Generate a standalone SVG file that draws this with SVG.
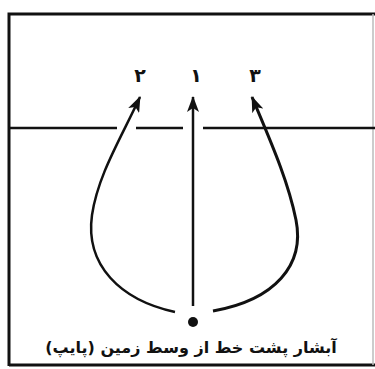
<svg xmlns="http://www.w3.org/2000/svg" width="375" height="369" viewBox="0 0 375 369">
<style>
.frame{fill:none;stroke:#111;stroke-width:3}
.line{fill:none;stroke:#111;stroke-width:2.5}
.flow{fill:none;stroke:#111;stroke-width:2.5}
.lbl{font-family:"DejaVu Sans",sans-serif;font-weight:bold;font-size:19px;fill:#111;text-anchor:middle}
.cap{font-family:"DejaVu Sans",sans-serif;font-weight:bold;font-size:16px;fill:#111;text-anchor:middle}
</style>
<defs>
<marker id="ah" viewBox="0 0 16 12" refX="15" refY="6" markerWidth="16" markerHeight="12" markerUnits="userSpaceOnUse" orient="auto">
<path d="M0,0 L16,6 L0,12 L4,6 Z" fill="#111"/>
</marker>
</defs>
<g id="court">
<path class="frame" d="M9,366 L9,14 L375,14"/>
<line x1="9" y1="365" x2="375" y2="365" stroke="#111" stroke-width="3"/>
<line x1="373" y1="14" x2="373" y2="365" stroke="#bbb" stroke-width="1.5"/>
<path class="line" d="M9,128 L117,128 M136,128 L183,128 M203,128 L375,128"/>
</g>
<g id="connectors">
<line class="flow" x1="193" y1="306" x2="193" y2="97" marker-end="url(#ah)"/>
<path class="flow" d="M175,312 C120,300 85,265 92,215 C98,175 120,140 140,97" marker-end="url(#ah)"/>
<path class="flow" d="M213,311 C275,300 305,265 296,220 C288,180 270,140 252,97" marker-end="url(#ah)" style="stroke-width:3"/>
</g>
<g id="start"><circle cx="193" cy="322" r="5" fill="#111"/></g>
<g id="label-2"><text class="lbl" x="140" y="82">۲</text></g>
<g id="label-1"><text class="lbl" x="196" y="82">۱</text></g>
<g id="label-3"><text class="lbl" x="255" y="82">۳</text></g>
<g id="caption"><text class="cap" x="191" y="353" direction="rtl">آبشار پشت خط از وسط زمین (پایپ)</text></g>
</svg>
